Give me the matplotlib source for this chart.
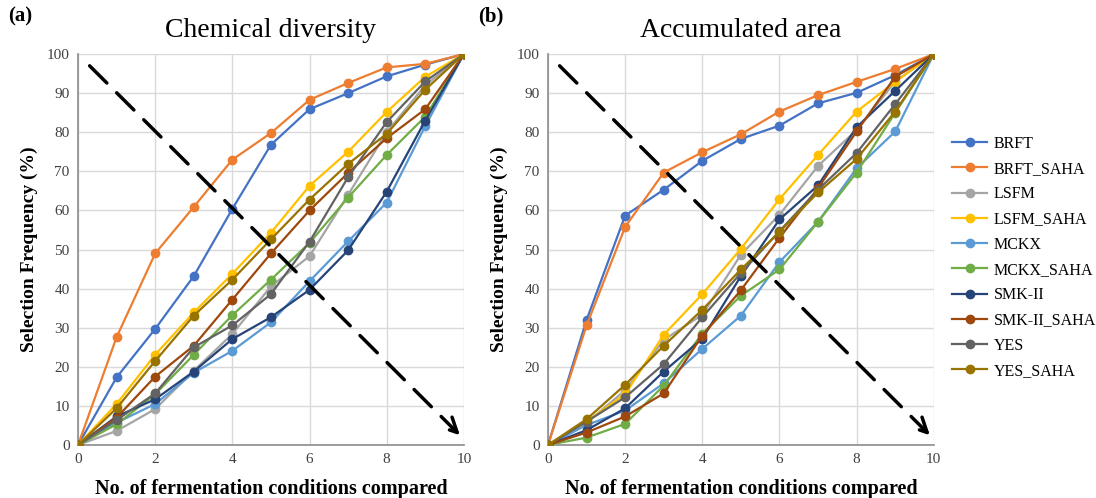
import numpy as np
import matplotlib
matplotlib.use("Agg")
from matplotlib import pyplot as plt

plt.rcParams['font.family'] = ['Liberation Serif', 'DejaVu Serif']

conditions = np.arange(0, 11)
series_names = ['BRFT', 'BRFT_SAHA', 'LSFM', 'LSFM_SAHA', 'MCKX',
                'MCKX_SAHA', 'SMK-II', 'SMK-II_SAHA', 'YES', 'YES_SAHA']
colors = ['#4472C4', '#ED7D31', '#A5A5A5', '#FFC000', '#5B9BD5',
          '#70AD47', '#264478', '#9E480E', '#636363', '#997300']

# (a) chemical diversity
chem_brft = [0, 17.3, 29.7, 43.2, 60.4, 76.8, 85.9, 90.0, 94.3, 97.3, 100]
chem_brft_saha = [0, 27.6, 49.0, 60.9, 73.0, 79.8, 88.3, 92.6, 96.6, 97.5, 100]
chem_lsfm = [0, 3.6, 9.2, 19.0, 28.4, 40.6, 48.3, 64.0, 80.0, 92.0, 100]
chem_lsfm_saha = [0, 10.5, 23.1, 33.9, 43.8, 54.3, 66.3, 75.0, 85.2, 94.2, 100]
chem_mckx = [0, 5.7, 10.5, 18.5, 24.1, 31.4, 41.9, 52.1, 62.0, 81.6, 100]
chem_mckx_saha = [0, 5.3, 13.0, 23.1, 33.2, 42.3, 51.7, 63.3, 74.2, 84.0, 100]
chem_smk = [0, 7.3, 11.7, 18.8, 27.1, 32.7, 39.7, 49.8, 64.8, 83.0, 100]
chem_smk_saha = [0, 7.0, 17.5, 25.4, 37.2, 49.0, 60.0, 69.6, 78.5, 85.9, 100]
chem_yes = [0, 6.4, 13.2, 25.0, 30.6, 38.6, 52.0, 68.5, 82.6, 93.0, 100]
chem_yes_saha = [0, 9.4, 21.5, 33.1, 42.3, 52.6, 62.8, 71.9, 79.6, 90.9, 100]

# (b) accumulated area
area_brft = [0, 32.0, 58.7, 65.3, 72.7, 78.3, 81.7, 87.4, 90.1, 94.6, 100]
area_brft_saha = [0, 30.6, 55.8, 69.7, 74.9, 79.5, 85.3, 89.5, 92.9, 96.2, 100]
area_lsfm = [0, 5.7, 14.0, 26.9, 33.3, 48.7, 58.9, 71.4, 80.6, 93.0, 100]
area_lsfm_saha = [0, 6.0, 13.0, 28.2, 38.6, 50.2, 62.9, 74.2, 85.3, 92.9, 100]
area_mckx = [0, 5.1, 8.8, 15.8, 24.6, 33.1, 46.8, 57.1, 70.8, 80.2, 100]
area_mckx_saha = [0, 1.9, 5.4, 15.2, 28.5, 38.2, 44.9, 57.1, 69.7, 85.0, 100]
area_smk = [0, 3.8, 9.4, 18.8, 27.2, 43.2, 57.7, 66.4, 81.3, 90.6, 100]
area_smk_saha = [0, 3.2, 7.3, 13.2, 28.0, 39.6, 53.0, 65.7, 80.2, 94.2, 100]
area_yes = [0, 6.0, 12.2, 20.7, 32.7, 44.0, 54.7, 65.3, 74.7, 87.2, 100]
area_yes_saha = [0, 6.6, 15.4, 25.4, 34.6, 44.9, 54.5, 64.6, 73.2, 85.3, 100]

chem = [chem_brft, chem_brft_saha, chem_lsfm, chem_lsfm_saha, chem_mckx,
        chem_mckx_saha, chem_smk, chem_smk_saha, chem_yes, chem_yes_saha]
area = [area_brft, area_brft_saha, area_lsfm, area_lsfm_saha, area_mckx,
        area_mckx_saha, area_smk, area_smk_saha, area_yes, area_yes_saha]

fig = plt.figure(figsize=(10.96, 4.98), dpi=100)
ax_a = fig.add_axes([0.0712, 0.1064, 0.352, 0.785])
ax_b = fig.add_axes([0.5, 0.1064, 0.352, 0.785])

for ax, data, title, tag in [(ax_a, chem, 'Chemical diversity', '(a)'),
                             (ax_b, area, 'Accumulated area', '(b)')]:
    for name, vals, col in zip(series_names, data, colors):
        ax.plot(conditions, vals, color=col, lw=1.6, marker='o', ms=6,
                label=name, zorder=3)
    ax.set_xlim(0, 10)
    ax.set_ylim(0, 100)
    ax.set_xticks(range(0, 11, 2))
    ax.set_yticks(range(0, 101, 10))
    ax.grid(color='#d9d9d9', lw=1)
    ax.set_axisbelow(True)
    for s in ['top', 'right']:
        ax.spines[s].set_visible(False)
    for s in ['left', 'bottom']:
        ax.spines[s].set_color('#8c8c8c')
        ax.spines[s].set_linewidth(1.2)
    ax.tick_params(length=0, labelsize=11, colors='#404040', pad=6)
    ax.set_xlabel('No. of fermentation conditions compared', fontsize=14.5,
                  fontweight='bold', labelpad=9)
    ax.set_ylabel('Selection Frequency (%)', fontsize=14, fontweight='bold',
                  labelpad=6)
    ax.set_title(title, fontsize=20, pad=12)
    ax.text(-0.18, 1.07, tag, transform=ax.transAxes, fontsize=15,
            fontweight='bold', ha='left', va='bottom')
    # dashed trend arrow
    ax.annotate('', xy=(0.995, 0.02), xytext=(0.025, 0.975),
                xycoords='axes fraction',
                arrowprops=dict(arrowstyle='->', color='black', lw=2.5,
                                linestyle=(0, (7, 4)),
                                mutation_scale=26))

ax_b.legend(loc='center left', bbox_to_anchor=(1.01, 0.48), frameon=False,
            fontsize=11.5, handlelength=2.2, labelspacing=0.58,
            handletextpad=0.4)

fig.savefig('out.png', dpi=100)
